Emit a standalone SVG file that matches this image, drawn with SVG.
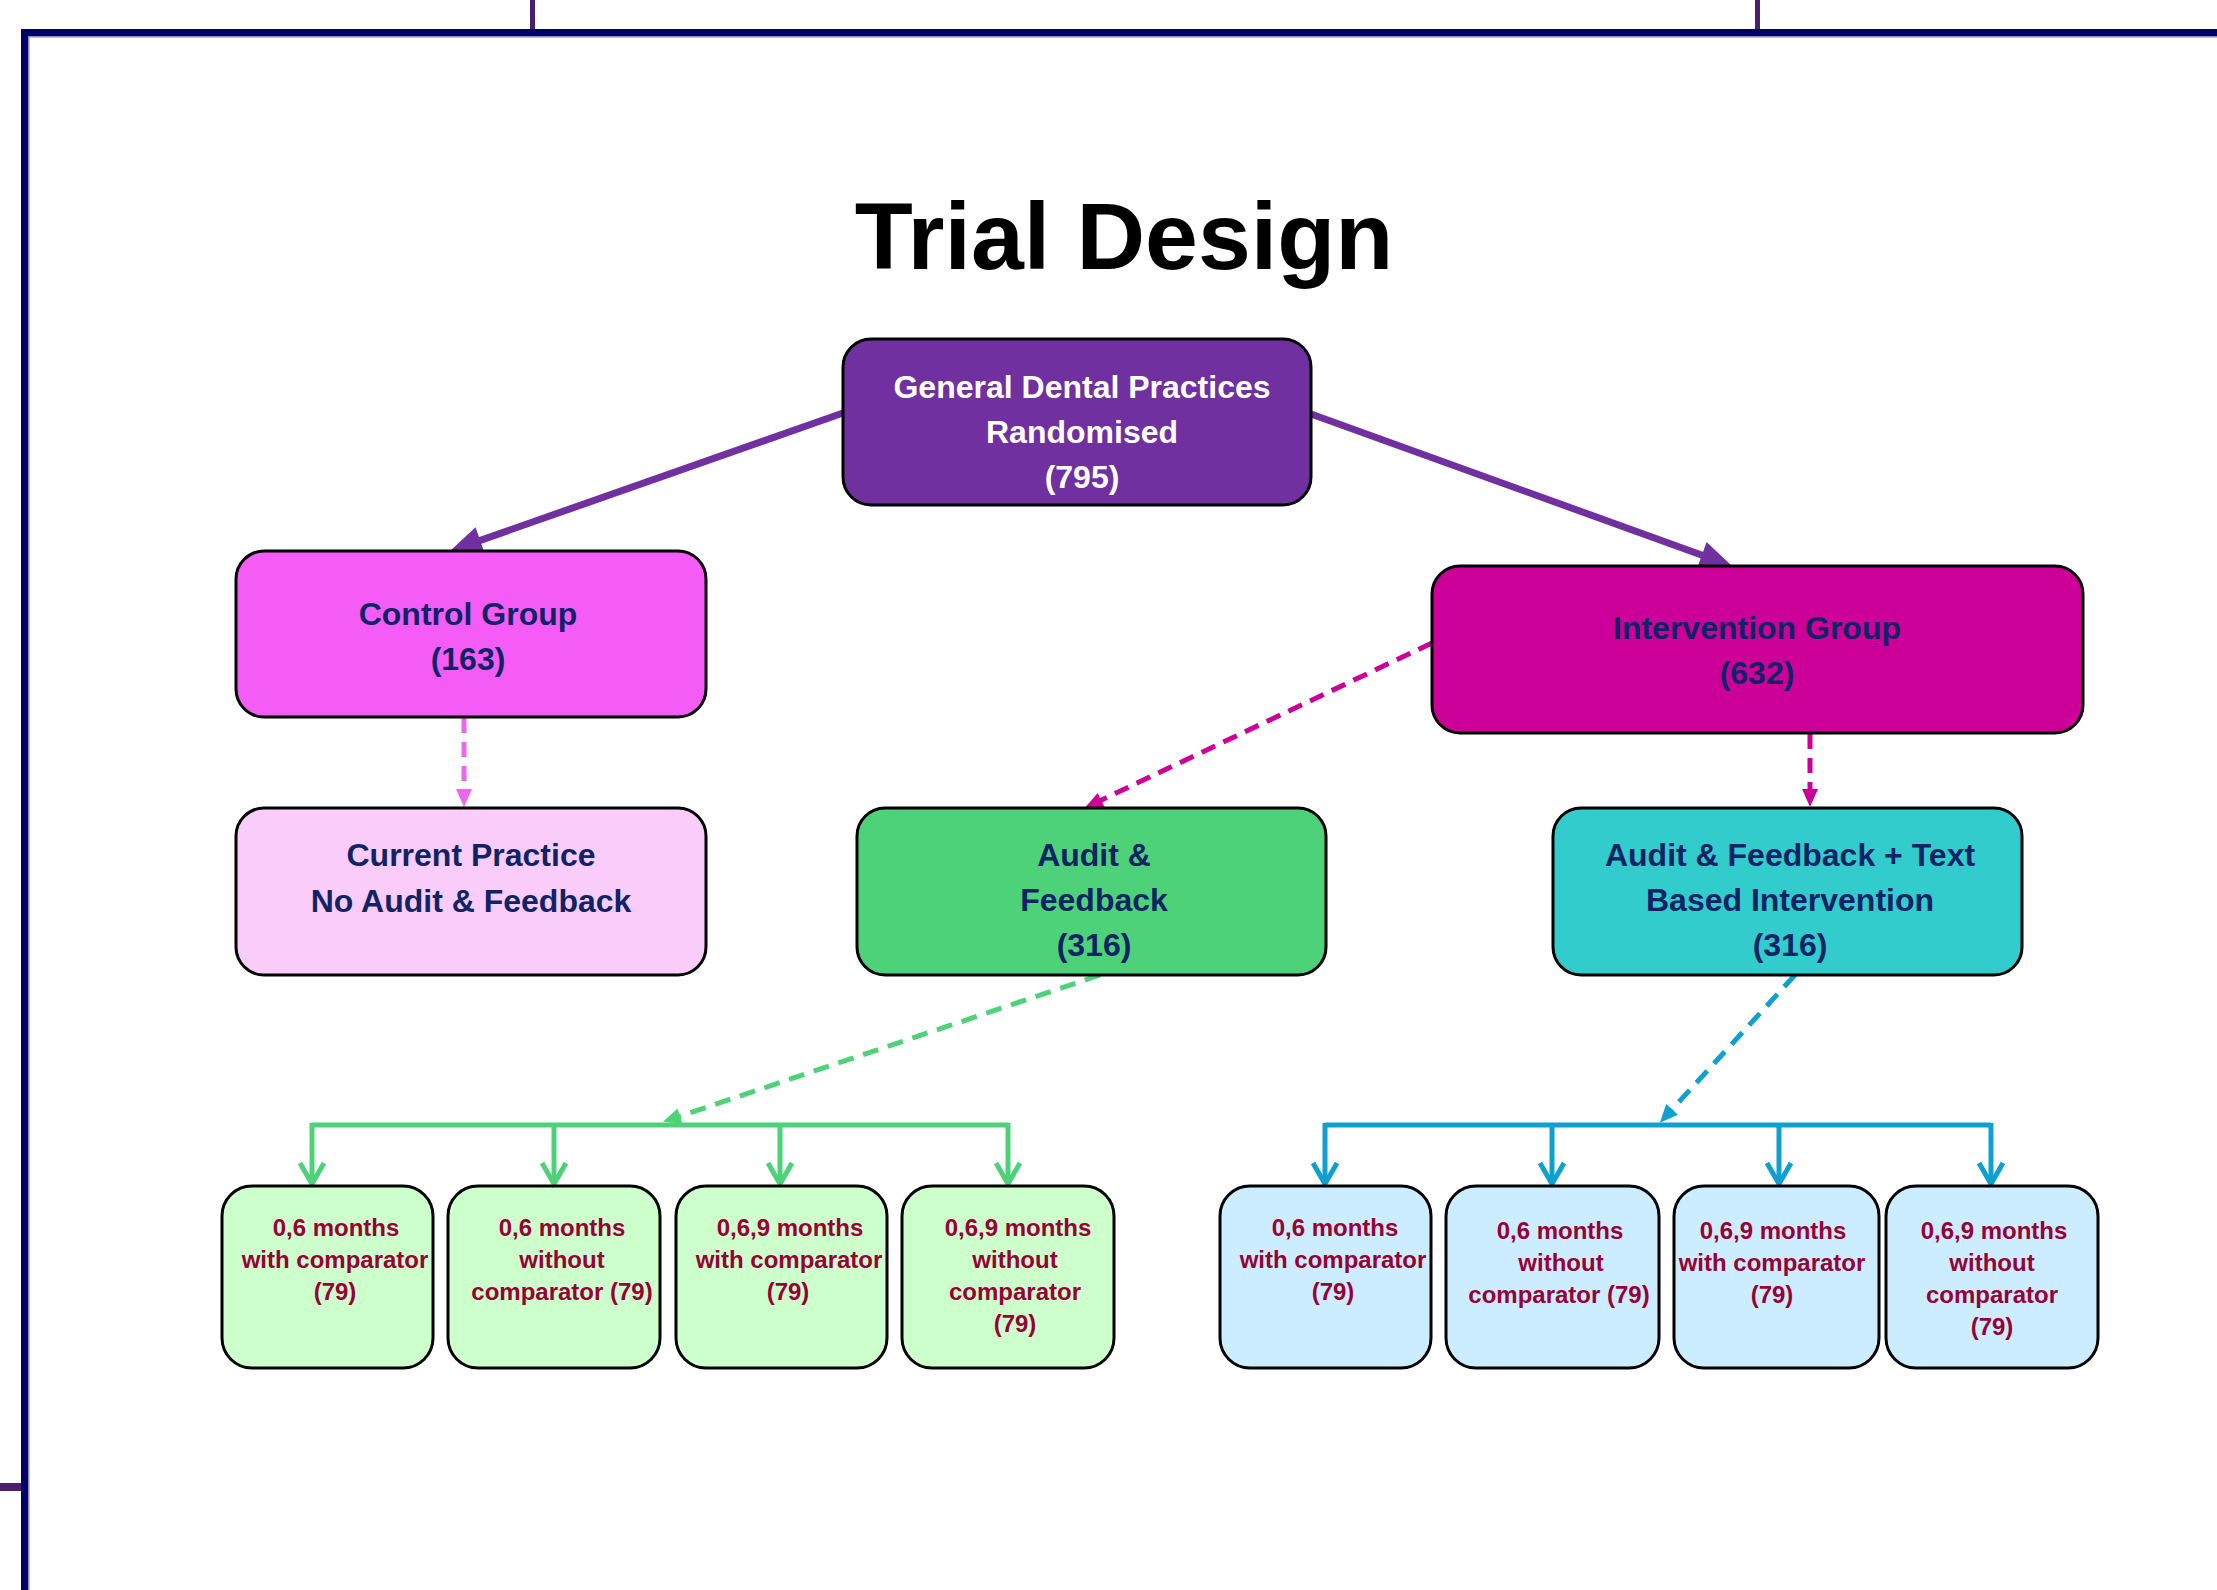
<svg xmlns="http://www.w3.org/2000/svg" width="2217" height="1590" viewBox="0 0 2217 1590">
<style>
.box{stroke:#000;stroke-width:3}
.t{font-family:"Liberation Sans",Arial,sans-serif;font-weight:bold;text-anchor:middle}
.big{font-size:32px;fill:#0F2365}
.wht{fill:#fff}
.sm{font-size:24px;fill:#990033}
.title{font-size:95px;fill:#000}
.c{fill:none}
</style>
<defs>
<marker id="ahP" markerUnits="userSpaceOnUse" markerWidth="34" markerHeight="30" refX="18" refY="14" orient="auto" overflow="visible"><path d="M0,0 L32,14 L0,28 z" fill="#7030A0"/></marker>
<marker id="ahPink" markerUnits="userSpaceOnUse" markerWidth="20" markerHeight="18" refX="9" refY="8" orient="auto" overflow="visible"><path d="M0,0 L18,8 L0,16 z" fill="#EE66EE"/></marker>
<marker id="ahMag" markerUnits="userSpaceOnUse" markerWidth="20" markerHeight="18" refX="9" refY="8" orient="auto" overflow="visible"><path d="M0,0 L18,8 L0,16 z" fill="#CC0099"/></marker>
<marker id="ahG" markerUnits="userSpaceOnUse" markerWidth="20" markerHeight="18" refX="9" refY="8" orient="auto" overflow="visible"><path d="M0,0 L18,8 L0,16 z" fill="#4DD27A"/></marker>
<marker id="ahB" markerUnits="userSpaceOnUse" markerWidth="20" markerHeight="18" refX="9" refY="8" orient="auto" overflow="visible"><path d="M0,0 L18,8 L0,16 z" fill="#0EA0CF"/></marker>
<marker id="vG" markerUnits="userSpaceOnUse" markerWidth="26" markerHeight="28" refX="21" refY="12" orient="auto" overflow="visible"><path d="M0,0 L21,12 L0,24" fill="none" stroke="#4DD27A" stroke-width="5"/></marker>
<marker id="vB" markerUnits="userSpaceOnUse" markerWidth="26" markerHeight="28" refX="21" refY="12" orient="auto" overflow="visible"><path d="M0,0 L21,12 L0,24" fill="none" stroke="#0EA0CF" stroke-width="5"/></marker>
</defs>
<rect width="2217" height="1590" fill="#fff"/>
<g id="frame">
<rect x="530" y="0" width="5" height="29" fill="#4B1E6E"/>
<rect x="1755" y="0" width="5" height="29" fill="#4B1E6E"/>
<rect x="0" y="1483" width="21" height="8" fill="#4B1E6E"/>
<rect x="21" y="29" width="2196" height="7" fill="#000066"/>
<rect x="21" y="29" width="7" height="1561" fill="#000066"/>
<rect x="28" y="36" width="2189" height="1.5" fill="#8A8AC8"/>
<rect x="28" y="36" width="1.5" height="1554" fill="#8A8AC8"/>
</g>
<text class="t title" x="1124" y="269">Trial Design</text>
<g id="connectors">
<path class="c" d="M843,413 L463.2,546.4" stroke="#7030A0" stroke-width="7" marker-end="url(#ahP)"/>
<path class="c" d="M1311,414 L1718.8,561.2" stroke="#7030A0" stroke-width="7" marker-end="url(#ahP)"/>
<path class="c" d="M464,718 L464,798" stroke="#EE66EE" stroke-width="5" stroke-dasharray="15 9" marker-end="url(#ahPink)"/>
<path class="c" d="M1810,734 L1810,798" stroke="#CC0099" stroke-width="5" stroke-dasharray="15 9" marker-end="url(#ahMag)"/>
<path class="c" d="M1432,643 L1093,804" stroke="#CC0099" stroke-width="5" stroke-dasharray="15 9" marker-end="url(#ahMag)"/>
<path class="c" d="M1100,975 L671.5,1119" stroke="#4DD27A" stroke-width="5" stroke-dasharray="16 10" marker-end="url(#ahG)"/>
<path class="c" d="M1795,975 L1666,1116" stroke="#0EA0CF" stroke-width="5" stroke-dasharray="16 10" marker-end="url(#ahB)"/>
<path class="c" d="M312,1125 L1008,1125" stroke="#4DD27A" stroke-width="5"/>
<path class="c" d="M312,1123 L312,1184" stroke="#4DD27A" stroke-width="5" marker-end="url(#vG)"/>
<path class="c" d="M554,1125 L554,1184" stroke="#4DD27A" stroke-width="5" marker-end="url(#vG)"/>
<path class="c" d="M780,1125 L780,1184" stroke="#4DD27A" stroke-width="5" marker-end="url(#vG)"/>
<path class="c" d="M1008,1123 L1008,1184" stroke="#4DD27A" stroke-width="5" marker-end="url(#vG)"/>
<path class="c" d="M1325,1125 L1991,1125" stroke="#0EA0CF" stroke-width="5"/>
<path class="c" d="M1325,1123 L1325,1184" stroke="#0EA0CF" stroke-width="5" marker-end="url(#vB)"/>
<path class="c" d="M1552,1125 L1552,1184" stroke="#0EA0CF" stroke-width="5" marker-end="url(#vB)"/>
<path class="c" d="M1779,1125 L1779,1184" stroke="#0EA0CF" stroke-width="5" marker-end="url(#vB)"/>
<path class="c" d="M1991,1123 L1991,1184" stroke="#0EA0CF" stroke-width="5" marker-end="url(#vB)"/>
</g>
<g id="n-randomised">
<rect class="box" x="843" y="339" width="468" height="166" rx="28" fill="#7030A0"/>
<text class="t big wht" x="1082" y="398">General Dental Practices</text>
<text class="t big wht" x="1082" y="443">Randomised</text>
<text class="t big wht" x="1082" y="488">(795)</text>
</g>
<g id="n-control">
<rect class="box" x="236" y="551" width="470" height="166" rx="28" fill="#F55CF5"/>
<text class="t big" x="468" y="625">Control Group</text>
<text class="t big" x="468" y="670">(163)</text>
</g>
<g id="n-intervention">
<rect class="box" x="1432" y="566" width="651" height="167" rx="28" fill="#CC0099"/>
<text class="t big" x="1757" y="639">Intervention Group</text>
<text class="t big" x="1757" y="684">(632)</text>
</g>
<g id="n-current">
<rect class="box" x="236" y="808" width="470" height="167" rx="28" fill="#F9CCF9"/>
<text class="t big" x="471" y="866">Current Practice</text>
<text class="t big" x="471" y="912">No Audit &amp; Feedback</text>
</g>
<g id="n-af">
<rect class="box" x="857" y="808" width="469" height="167" rx="28" fill="#4DD27A"/>
<text class="t big" x="1094" y="866">Audit &amp;</text>
<text class="t big" x="1094" y="911">Feedback</text>
<text class="t big" x="1094" y="956">(316)</text>
</g>
<g id="n-aft">
<rect class="box" x="1553" y="808" width="469" height="167" rx="28" fill="#33CCCC"/>
<text class="t big" x="1790" y="866">Audit &amp; Feedback + Text</text>
<text class="t big" x="1790" y="911">Based Intervention</text>
<text class="t big" x="1790" y="956">(316)</text>
</g>
<g id="n-g1">
<rect class="box" x="222" y="1186" width="211" height="182" rx="30" fill="#CCFFCC"/>
<text class="t sm" x="336" y="1236">0,6 months</text>
<text class="t sm" x="335" y="1268">with comparator</text>
<text class="t sm" x="335" y="1300">(79)</text>
</g>
<g id="n-g2">
<rect class="box" x="448" y="1186" width="212" height="182" rx="30" fill="#CCFFCC"/>
<text class="t sm" x="562" y="1236">0,6 months</text>
<text class="t sm" x="562" y="1268">without</text>
<text class="t sm" x="562" y="1300">comparator (79)</text>
</g>
<g id="n-g3">
<rect class="box" x="676" y="1186" width="211" height="182" rx="30" fill="#CCFFCC"/>
<text class="t sm" x="790" y="1236">0,6,9 months</text>
<text class="t sm" x="789" y="1268">with comparator</text>
<text class="t sm" x="788" y="1300">(79)</text>
</g>
<g id="n-g4">
<rect class="box" x="902" y="1186" width="212" height="182" rx="30" fill="#CCFFCC"/>
<text class="t sm" x="1018" y="1236">0,6,9 months</text>
<text class="t sm" x="1015" y="1268">without</text>
<text class="t sm" x="1015" y="1300">comparator</text>
<text class="t sm" x="1015" y="1332">(79)</text>
</g>
<g id="n-b1">
<rect class="box" x="1220" y="1186" width="211" height="182" rx="30" fill="#CCECFF"/>
<text class="t sm" x="1335" y="1236">0,6 months</text>
<text class="t sm" x="1333" y="1268">with comparator</text>
<text class="t sm" x="1333" y="1300">(79)</text>
</g>
<g id="n-b2">
<rect class="box" x="1446" y="1186" width="213" height="182" rx="30" fill="#CCECFF"/>
<text class="t sm" x="1560" y="1239">0,6 months</text>
<text class="t sm" x="1561" y="1271">without</text>
<text class="t sm" x="1559" y="1303">comparator (79)</text>
</g>
<g id="n-b3">
<rect class="box" x="1674" y="1186" width="205" height="182" rx="30" fill="#CCECFF"/>
<text class="t sm" x="1773" y="1239">0,6,9 months</text>
<text class="t sm" x="1772" y="1271">with comparator</text>
<text class="t sm" x="1772" y="1303">(79)</text>
</g>
<g id="n-b4">
<rect class="box" x="1886" y="1186" width="212" height="182" rx="30" fill="#CCECFF"/>
<text class="t sm" x="1994" y="1239">0,6,9 months</text>
<text class="t sm" x="1992" y="1271">without</text>
<text class="t sm" x="1992" y="1303">comparator</text>
<text class="t sm" x="1992" y="1335">(79)</text>
</g>
</svg>
